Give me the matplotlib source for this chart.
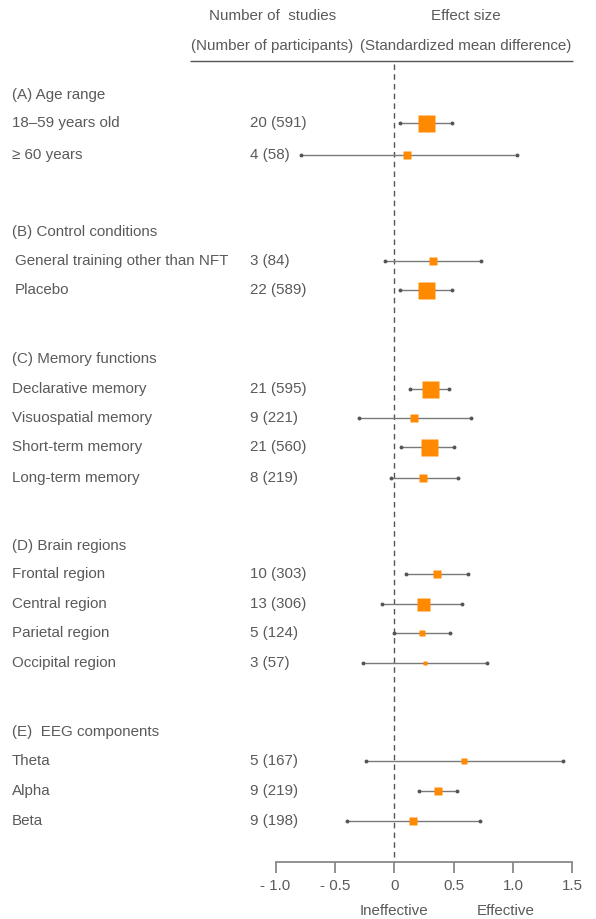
import matplotlib.pyplot as plt

plt.rcParams['font.family'] = ['Liberation Sans', 'DejaVu Sans']

# subgroups of the meta-analysis
sections = ["(A) Age range", "(B) Control conditions", "(C) Memory functions",
            "(D) Brain regions", "(E)  EEG components"]
groups = [
    ["18–59 years old", "≥ 60 years"],
    ["General training other than NFT", "Placebo"],
    ["Declarative memory", "Visuospatial memory", "Short-term memory", "Long-term memory"],
    ["Frontal region", "Central region", "Parietal region", "Occipital region"],
    ["Theta", "Alpha", "Beta"],
]
counts = ["20 (591)", "4 (58)", "3 (84)", "22 (589)", "21 (595)", "9 (221)",
          "21 (560)", "8 (219)", "10 (303)", "13 (306)", "5 (124)", "3 (57)",
          "5 (167)", "9 (219)", "9 (198)"]
smd = [0.27, 0.11, 0.33, 0.27, 0.30, 0.17, 0.29, 0.24, 0.36, 0.24, 0.23, 0.26,
       0.59, 0.37, 0.16]
ci_low = [0.05, -0.79, -0.08, 0.05, 0.13, -0.30, 0.06, -0.03, 0.10, -0.10, 0.00,
          -0.26, -0.24, 0.21, -0.40]
ci_high = [0.49, 1.03, 0.73, 0.49, 0.46, 0.65, 0.50, 0.54, 0.62, 0.57, 0.47, 0.78,
           1.42, 0.53, 0.72]
weight = [17, 8, 8, 17, 17, 8, 17, 8, 8, 13, 6, 4, 6, 8, 8]

tick_vals = [-1.0, -0.5, 0, 0.5, 1.0, 1.5]
tick_text = ["- 1.0", "- 0.5", "0", "0.5", "1.0", "1.5"]

# layout in pixels (y grows downward)
section_y = [95, 232, 359, 546, 732]
row_y = [123, 155, 261, 290, 389, 418, 447, 478, 574, 604, 633, 663, 761, 791, 821]
x0_px, unit_px = 394.3, 118.7
text_col = "#5a5a5a"
orange = "#FF8A00"


def px(x):
    return (x - x0_px) / unit_px


fig = plt.figure(figsize=(5.96, 9.19), dpi=100)
ax = fig.add_axes([0, 0, 1, 1])
ax.set_xlim(px(0), px(596))
ax.set_ylim(919, 0)

# header
fs = 10.9
ax.text(px(273), 16, "Number of  studies", ha="center", va="center", fontsize=fs, color=text_col)
ax.text(px(466), 16, "Effect size", ha="center", va="center", fontsize=fs, color=text_col)
ax.text(px(272), 46, "(Number of participants)", ha="center", va="center", fontsize=fs, color=text_col)
ax.text(px(466), 46, "(Standardized mean difference)", ha="center", va="center", fontsize=fs, color=text_col)
ax.hlines(61, px(190), px(573), color="#555555", lw=1)

# line of no effect
ax.vlines(0, 64, 862, colors="#555555", lw=1, linestyles=(0, (4, 3)))

k = 0
for s, (title, items) in enumerate(zip(sections, groups)):
    ax.text(px(12), section_y[s], title, ha="left", va="center", fontsize=fs, color=text_col)
    indent = 15 if s == 1 else 12
    for name in items:
        y = row_y[k]
        ax.text(px(indent), y, name, ha="left", va="center", fontsize=fs, color=text_col)
        ax.text(px(250), y, counts[k], ha="left", va="center", fontsize=fs, color=text_col)
        ax.plot([ci_low[k], ci_high[k]], [y, y], color="#7a7a7a", lw=1, zorder=2)
        ax.plot([ci_low[k], ci_high[k]], [y, y], ls="none", marker="o", ms=1.8,
                color="#555555", zorder=3)
        ax.plot(smd[k], y, marker="s", ms=weight[k] * 0.72, color=orange,
                mec="none", zorder=4)
        k += 1

# effect size axis
for side in ["top", "left", "right"]:
    ax.spines[side].set_visible(False)
ax.spines["bottom"].set_position(("data", 862))
ax.spines["bottom"].set_bounds(-1.0, 1.5)
ax.spines["bottom"].set_color("#888888")
ax.spines["bottom"].set_linewidth(1.3)
ax.set_xticks(tick_vals)
ax.set_xticklabels(tick_text)
ax.tick_params(axis="x", direction="out", length=8, width=1.3, color="#888888",
               labelsize=fs, labelcolor=text_col, pad=4)
ax.set_yticks([])

ax.text(0, 911, "Ineffective", ha="center", va="center", fontsize=fs, color=text_col)
ax.text(px(506), 911, "Effective", ha="center", va="center", fontsize=fs, color=text_col)

fig.savefig("out.png", dpi=100)
